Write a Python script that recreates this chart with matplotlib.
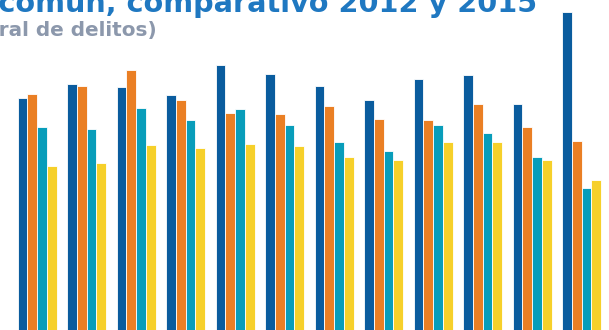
import numpy as np
import matplotlib
matplotlib.use("Agg")
import matplotlib.pyplot as plt

# Monthly totals per year (pixel-scale units, baseline at bottom edge)
meses = ["Ene", "Feb", "Mar", "Abr", "May", "Jun", "Jul", "Ago", "Sep", "Oct", "Nov", "Dic"]
anio_2012 = [232, 246, 243, 235, 265, 256, 244, 230, 251, 255, 226, 318]
anio_2013 = [236, 244, 260, 230, 217, 216, 224, 211, 210, 226, 203, 189]
anio_2014 = [203, 201, 222, 210, 221, 205, 188, 179, 205, 197, 173, 142]
anio_2015 = [164, 167, 185, 182, 186, 184, 173, 170, 188, 188, 170, 150]

series = [anio_2012, anio_2013, anio_2014, anio_2015]
colores = ["#0a5c9e", "#ea7f24", "#089dba", "#f6d02a"]

titulo = "Incidencia delictiva del fuero común, comparativo 2012 y 2015"
subtitulo = "(Total general de delitos)"

fig = plt.figure(figsize=(6.09, 3.30), dpi=100)
ax = fig.add_axes([0, 0, 1, 1])
ax.set_xlim(0, 609)
ax.set_ylim(0, 330)
ax.axis("off")

ancho = 9.75
x = 37 + 49.5 * np.arange(len(meses))
for k, (valores, color) in enumerate(zip(series, colores)):
    ax.bar(x + (k - 1.5) * ancho, valores, width=ancho, color=color,
           edgecolor="white", linewidth=0.6)

# Title and subtitle, right-aligned, sized to fit their widths
fuente = "DejaVu Sans"
t = ax.text(537, 318, titulo, ha="right", va="baseline", fontsize=20,
            fontweight="bold", color="#1f78c1", family=fuente)
s = ax.text(157, 294, subtitulo, ha="right", va="baseline", fontsize=12,
            fontweight="bold", color="#8c98ac", family=fuente)

fig.canvas.draw()
r = fig.canvas.get_renderer()
# "comparativo 2012 y 2015" should span about 412 px
parte = ax.text(0, 0, "comparativo 2012 y 2015", fontsize=20, fontweight="bold", family=fuente)
w = parte.get_window_extent(r).width
parte.remove()
t.set_fontsize(20 * 412 / w)
# "ral de delitos)" should span about 157 px
parte = ax.text(0, 0, "ral de delitos)", fontsize=12, fontweight="bold", family=fuente)
w = parte.get_window_extent(r).width
parte.remove()
s.set_fontsize(12 * 157 / w)

fig.savefig("out.png", dpi=100)
